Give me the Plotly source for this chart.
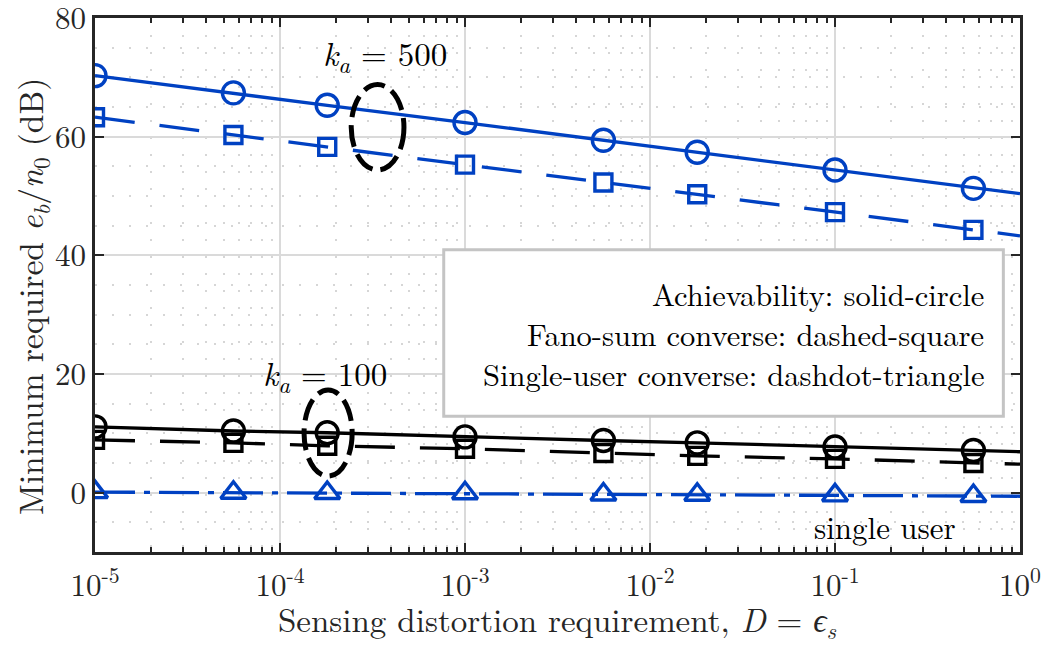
import plotly.graph_objects as go
import numpy as np

# ---------------- data ----------------
D = [1e-5, 5.6e-5, 1.8e-4, 1e-3, 5.6e-3, 1.8e-2, 1e-1, 5.6e-1, 1.0]   # last point: line end only
ach_500 = [70.3, 67.4, 65.3, 62.4, 59.4, 57.4, 54.4, 51.3, 50.4]
fano_500 = [63.3, 60.3, 58.3, 55.3, 52.3, 50.3, 47.3, 44.3, 43.3]
ach_100 = [11.1, 10.4, 10.1, 9.4, 8.8, 8.4, 7.7, 7.1, 6.9]
fano_100 = [8.9, 8.4, 7.9, 7.4, 6.7, 6.2, 5.7, 5.0, 4.8]
single_user = [0.1, 0.0, -0.05, -0.1, -0.3, -0.35, -0.45, -0.55, -0.6]

x_tickvals = [1e-5, 1e-4, 1e-3, 1e-2, 1e-1, 1e0]
x_ticktext = ["10<sup>-5</sup>", "10<sup>-4</sup>", "10<sup>-3</sup>",
              "10<sup>-2</sup>", "10<sup>-1</sup>", "10<sup>0</sup>"]
y_tickvals = [0, 20, 40, 60, 80]
y_ticktext = ["0", "20", "40", "60", "80"]

legend_lines = ["Achievability: solid-circle",
                "Fano-sum converse: dashed-square",
                "Single-user converse: dashdot-triangle"]

x_title = "Sensing distortion requirement, <i>D</i> = <i>ϵ</i><sub><i>s</i></sub>"
y_title = "Minimum required <i>e</i><sub><i>b</i></sub>/<i>n</i><sub>0</sub> (dB)"

BLUE = "#0041c2"
BLACK = "#000000"
AX = "#262626"
LM = "Latin Modern Roman"
FS = 31

minor_x = [m * 10.0 ** e for e in range(-5, 0) for m in range(2, 10)]

fig = go.Figure()

series = [
    (ach_500, BLUE, "solid", "circle-open", 22),
    (fano_500, BLUE, "40px,25px", "square-open", 17),
    (ach_100, BLACK, "solid", "circle-open", 22),
    (fano_100, BLACK, "40px,25px", "square-open", 17),
    (single_user, BLUE, "40px,9px,6px,9px", "triangle-up-open", 22),
]
for ys, col, dash, sym, size in series:
    fig.add_trace(go.Scatter(x=D, y=ys, mode="lines",
                             line=dict(color=col, width=3.3, dash=dash),
                             showlegend=False, hoverinfo="skip"))
    fig.add_trace(go.Scatter(x=D[:-1], y=ys[:-1], mode="markers",
                             marker=dict(symbol=sym, size=size, color=col,
                                         line=dict(color=col, width=3.4)),
                             showlegend=False))

# ellipses (dashed) marking curve groups
fig.add_shape(type="circle", xref="x", yref="y",
              x0=10 ** -3.615, x1=10 ** -3.33, y0=54.4, y1=68.8,
              line=dict(color="black", width=5, dash="22px,8px"))
fig.add_shape(type="circle", xref="x", yref="y",
              x0=10 ** -3.87, x1=10 ** -3.61, y0=2.8, y1=17.3,
              line=dict(color="black", width=5, dash="22px,8px"))

# legend-like box
fig.add_shape(type="rect", xref="paper", yref="paper",
              x0=0.377, x1=0.982, y0=0.254, y1=0.566,
              line=dict(color="#c4c4c4", width=3), fillcolor="white", layer="above")
for i, txt in enumerate(legend_lines):
    fig.add_annotation(xref="paper", yref="paper", x=0.963, y=0.484 - i * 0.075,
                       text=txt, showarrow=False, xanchor="right", yanchor="middle",
                       font=dict(family=LM, size=30.5, color="black"))

fig.add_annotation(xref="x", yref="y", x=-3.43, y=73.8,
                   text="<i>k</i><sub><i>a</i></sub> = 500", showarrow=False,
                   font=dict(family=LM, size=33, color="black"))
fig.add_annotation(xref="x", yref="y", x=-3.757, y=19.9,
                   text="<i>k</i><sub><i>a</i></sub> = 100", showarrow=False,
                   font=dict(family=LM, size=33, color="black"))
fig.add_annotation(xref="x", yref="y", x=-0.73, y=-5.6,
                   text="single user", showarrow=False,
                   font=dict(family=LM, size=31, color="black"))

# axis titles
fig.add_annotation(xref="paper", yref="paper", x=0.5005, y=-0.129,
                   text=x_title, showarrow=False, xanchor="center", yanchor="middle",
                   font=dict(family=LM, size=33, color=AX))
fig.add_annotation(xref="paper", yref="paper", x=-0.069, y=0.478,
                   text=y_title, showarrow=False, xanchor="center", yanchor="middle",
                   textangle=-90, font=dict(family=LM, size=33.5, color=AX))

fig.update_xaxes(type="log", range=[-5, 0], automargin=False,
                 tickmode="array", tickvals=x_tickvals, ticktext=x_ticktext,
                 ticks="inside", ticklen=9, tickwidth=2, tickcolor=AX,
                 showline=True, linecolor=AX, linewidth=2.5, mirror="allticks",
                 showgrid=True, gridcolor="#dadada", gridwidth=2,
                 minor=dict(tickmode="array", tickvals=minor_x, ticks="inside",
                            ticklen=5, tickwidth=2, tickcolor=AX,
                            showgrid=True, gridcolor="#d6d6d6", gridwidth=2,
                            griddash="2px,15px"),
                 tickfont=dict(family=LM, size=FS, color=AX),
                 ticklabeloverflow="allow", ticklabelstandoff=4,
                 zeroline=False)
fig.update_yaxes(range=[-10, 80.02], automargin=False,
                 tickmode="array", tickvals=y_tickvals, ticktext=y_ticktext,
                 ticks="inside", ticklen=9, tickwidth=2, tickcolor=AX,
                 showline=True, linecolor=AX, linewidth=2.5, mirror="allticks",
                 showgrid=True, gridcolor="#dadada", gridwidth=2,
                 minor=dict(dtick=5, tick0=0, ticks="", showgrid=True,
                            gridcolor="#d6d6d6", gridwidth=2, griddash="2px,15px"),
                 tickfont=dict(family=LM, size=FS, color=AX),
                 ticklabeloverflow="allow",
                 zeroline=False)

fig.update_layout(width=1050, height=645,
                  margin=dict(l=95, r=30, t=18, b=93),
                  font=dict(family=LM, size=FS, color=AX),
                  paper_bgcolor="white", plot_bgcolor="white",
                  showlegend=False)

fig.write_html("out.html")
